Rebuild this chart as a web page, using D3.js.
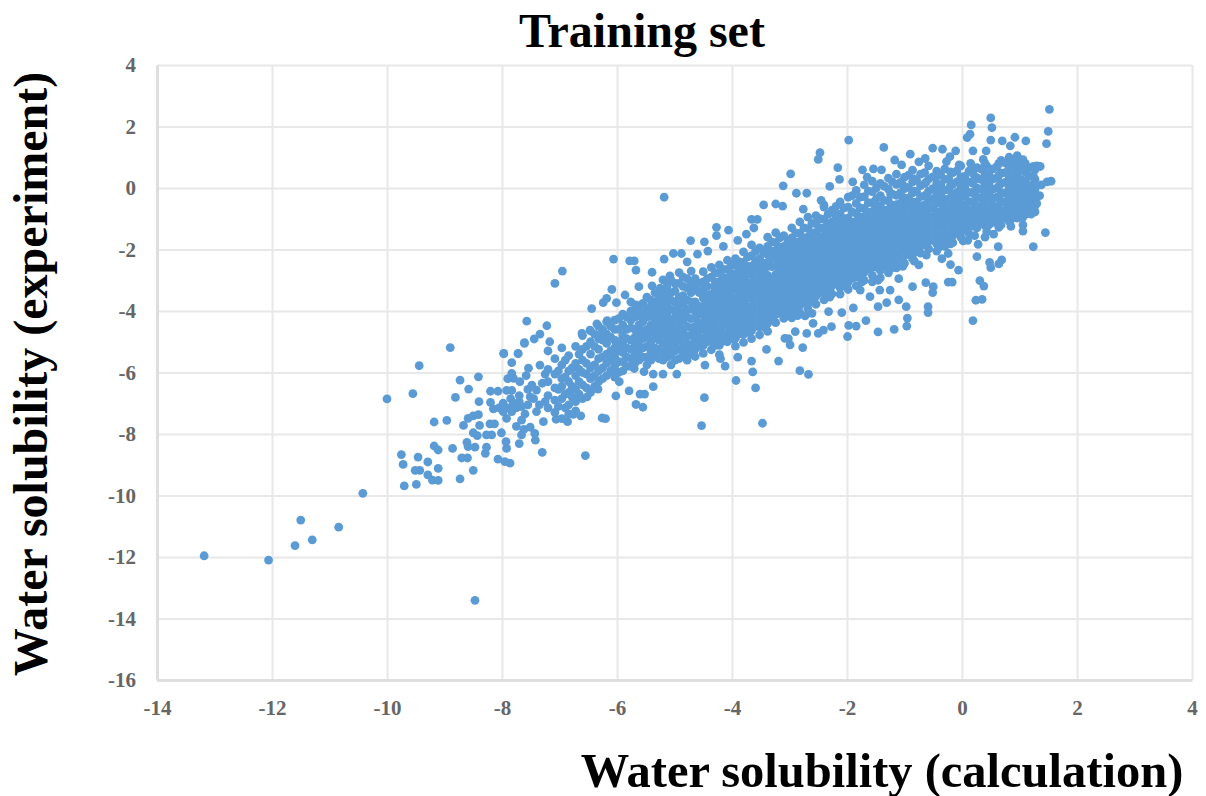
<!DOCTYPE html>
<html>
<head>
<meta charset="utf-8">
<script src="https://cdn.jsdelivr.net/npm/d3@7"></script>
<style>
    body { margin: 0; background: #fff; }
    text { font-family: "Liberation Serif", serif; font-weight: bold; }
</style>
</head>
<body>
<div id="chart"></div>
<script>
var xTicks = [-14, -12, -10, -8, -6, -4, -2, 0, 2, 4];
var yTicks = [4, 2, 0, -2, -4, -6, -8, -10, -12, -14, -16];

// Lone points at the low end
var tailPoints = [[-13.18,-11.96],[-12.06,-12.1],[-11.6,-11.63],[-11.3,-11.44],[-11.5,-10.8],[-10.84,-11.03],[-10.42,-9.93],[-8.47,-13.41],
    [-10,-6.86],[-9.55,-6.69],[-9.44,-5.78],[-8.9,-5.19]];

var leftPoints = [[-9.75,-8.67],[-9.72,-8.99],[-9.7,-9.69],[-9.49,-9.64],[-9.46,-8.75],[-9.51,-9.18],[-9.43,-9.18],[-9.29,-8.91],[-9.11,-9.12],[-9.29,-9.33],
    [-9.21,-9.5],[-9.11,-9.51],[-8.73,-9.46],[-8.5,-9.18],[-9.18,-8.39],[-9.11,-8.52],[-8.86,-8.47],[-9.18,-7.61],[-8.96,-7.56],[-8.81,-6.81],
    [-8.73,-6.25],[-8.58,-6.54],[-8.41,-6.14],[-8.4,-6.95],[-8.2,-6.97],[-8.2,-6.61],[-8.07,-6.61],[-7.92,-6.58],[-7.83,-6.58],[-7.97,-5.39],
    [-7.72,-5.39],[-7.61,-5.05],[-7.83,-5.68],[-8.67,-7.72],[-8.59,-7.49],[-8.5,-7.41],[-8.41,-7.37],[-8.39,-7.72],[-8.21,-7.67],[-8.13,-7.67],
    [-8.5,-7.96],[-8.43,-8.05],[-8.27,-8.03],[-8.18,-8.03],[-8.61,-8.27],[-8.59,-8.41],[-8.47,-8.43],[-8.27,-8.43],[-8.29,-8.63],[-8.7,-8.78],
    [-8.6,-8.78],[-8.07,-8.82],[-7.95,-8.9],[-7.86,-8.95],[-8.01,-7.96],[-7.93,-8.25],[-7.92,-8.47],[-7.7,-8.31],[-7.66,-8.03],[-7.51,-7.78],
    [-7.43,-7.98],[-7.98,-7],[-7.98,-7.27],[-7.92,-7.49],[-7.8,-7],[-7.83,-7.27],[-7.66,-7.11],[-7.66,-7.55],[-7.51,-6.79],[-7.4,-7.27],
    [-7.4,-6.57],[-7.83,-6.03],[-7.8,-6.19],[-7.69,-6.3],[-7.54,-5.86],[-7.48,-6.41],[-7.34,-5.76],[-8.15,-7.18],[-7.3,-8.6],[-7.42,-8.2],
    [-7.75,-7.75],[-7.6,-7.35],[-7.7,-6.75],[-7.9,-6.2],[-7.28,-7.6],[-7.25,-6.95],[-7.58,-6.1],[-7.62,-7.85],[-7.9,-7.15],[-7.75,-7.15],
    [-7.55,-7.05],[-7.45,-6.85],[-7.35,-7.05],[-7.3,-6.35],[-7.25,-6.05],[-7.55,-6.55],[-7.85,-6.85],[-8.05,-7.15],[-7.7,-6.95]];

// Sparse strands between the cluster and the core, one row per x
var midX = [-7.2,-7.08,-6.96,-6.84,-6.72,-6.6,-6.46,-6.32,-6.18,-6.04,-5.9,-5.76,-5.62,-5.48,-5.34,-5.2,-5.06,-4.92,-4.78];
var midY = [
    [-5.3,-5.9,-6.3,-6.75,-7.15],
    [-5.55,-6.05,-6.5,-6.9,-7.3],
    [-5.2,-5.75,-6.2,-6.45,-6.85,-7.5],
    [-5.45,-5.95,-6.3,-6.65,-7.05,-7.35],
    [-5.15,-5.7,-6.1,-6.55,-6.95,-7.25],
    [-4.8,-5.25,-5.6,-6,-6.4,-6.85],
    [-4.65,-5,-5.4,-5.85,-6.2,-6.65],
    [-4.5,-4.9,-5.25,-5.55,-5.95,-6.3],
    [-4.35,-4.75,-5.05,-5.4,-5.7,-6.1],
    [-4.3,-4.6,-4.95,-5.2,-5.5,-5.8,-6.15],
    [-4.1,-4.45,-4.8,-5.1,-5.35,-5.65,-5.95],
    [-3.7,-4,-4.3,-4.55,-4.95,-5.25,-5.55,-5.8],
    [-3.85,-4.15,-4.45,-4.7,-5,-5.3,-5.6],
    [-3.55,-3.95,-4.2,-4.6,-4.85,-5.15,-5.5,-5.75],
    [-3.4,-3.7,-4,-4.3,-4.55,-4.8,-5.2,-5.45],
    [-3.35,-3.65,-3.9,-4.2,-4.5,-4.75,-5.05,-5.35,-5.6],
    [-3,-3.4,-3.65,-3.95,-4.3,-4.55,-4.85,-5.1,-5.4,-5.75],
    [-2.75,-3.1,-3.55,-3.85,-4.1,-4.4,-4.65,-4.95,-5.25,-5.55],
    [-2.4,-2.95,-3.25,-3.65,-3.95,-4.2,-4.5,-4.8,-5.05,-5.3,-5.6]
];

// Extra rows that close most of the gaps in the strands
var midFillX = [-7.02,-6.9,-6.78,-6.66,-6.53,-6.39,-6.25,-6.11,-5.97,-5.83,-5.69,-5.55,-5.41,-5.27,-5.13,-4.99,-4.85,-4.71];
var midFillY = [
    [-5.95,-6.55,-7.1],
    [-5.6,-6.15,-6.7,-7.15],
    [-5.85,-6.45,-6.8],
    [-5.4,-5.9,-6.3,-6.7],
    [-5.15,-5.7,-6.05,-6.5],
    [-4.75,-5.15,-5.75,-6.1,-6.45],
    [-4.6,-4.95,-5.5,-5.85,-6.2],
    [-4.5,-4.85,-5.3,-5.6,-5.95],
    [-4.25,-4.6,-5,-5.3,-5.65,-6],
    [-4.2,-4.6,-4.9,-5.2,-5.5,-5.8],
    [-3.95,-4.2,-4.6,-4.85,-5.15,-5.45,-5.7],
    [-3.75,-4.05,-4.35,-4.65,-4.9,-5.2,-5.5],
    [-3.65,-3.85,-4.15,-4.45,-4.7,-5,-5.3,-5.6],
    [-3.5,-3.85,-4.1,-4.4,-4.65,-4.95,-5.25,-5.55],
    [-3.2,-3.55,-3.8,-4.1,-4.35,-4.65,-4.95,-5.25,-5.5],
    [-3.1,-3.35,-3.7,-4,-4.2,-4.5,-4.75,-5.05,-5.3,-5.6],
    [-2.9,-3.2,-3.5,-3.75,-4.05,-4.3,-4.6,-4.85,-5.15,-5.45],
    [-2.7,-3.1,-3.4,-3.7,-3.95,-4.25,-4.55,-4.8,-5.1,-5.4]
];

// Solid core of the cloud, one row per x
var coreX = [-4.64,-4.5,-4.36,-4.22,-4.08,-3.94,-3.8,-3.66,-3.52,-3.38,-3.24,-3.1,-2.96,-2.82,-2.68,-2.54,-2.4,-2.26,-2.12,-1.98,-1.84,-1.7,-1.56,-1.42,-1.28,-1.14,-1,-0.86,-0.72,-0.58,-0.44,-0.3,-0.16,-0.02,0.12,0.26,0.4,0.54,0.68,0.82,0.96,1.1,1.24];
var coreY = [
    [-2.95,-3.25,-3.7,-3.98,-4.22,-4.5,-4.72,-5,-5.24,-5.48],
    [-2.72,-3.05,-3.32,-3.58,-3.85,-4.1,-4.36,-4.6,-4.88,-5.12,-5.38],
    [-2.58,-2.9,-3.45,-3.7,-3.96,-4.22,-4.48,-4.75,-5,-5.26],
    [-2.5,-2.78,-3.05,-3.3,-3.56,-3.82,-4.08,-4.34,-4.62,-4.86,-5.12,-5.42],
    [-2.35,-2.65,-2.92,-3.18,-3.44,-3.7,-3.96,-4.22,-4.48,-4.74,-5],
    [-2.3,-2.52,-2.8,-3.05,-3.3,-3.58,-3.84,-4.1,-4.36,-4.62,-4.88,-5.14],
    [-2.08,-2.42,-2.68,-2.94,-3.2,-3.46,-3.72,-3.98,-4.24,-4.5,-4.76,-5.02],
    [-1.85,-2.2,-2.54,-2.82,-3.08,-3.34,-3.6,-3.86,-4.12,-4.38,-4.64,-4.9],
    [-1.95,-2.3,-2.56,-2.7,-2.96,-3.22,-3.48,-3.74,-4,-4.26,-4.52,-4.78],
    [-1.6,-1.9,-2.16,-2.42,-2.84,-3.1,-3.36,-3.62,-3.88,-4.14,-4.4,-4.66],
    [-1.45,-1.78,-2.04,-2.3,-2.56,-2.82,-3.08,-3.34,-3.6,-3.86,-4.12,-4.38],
    [-1.55,-1.9,-2.16,-2.42,-2.68,-2.94,-3.2,-3.46,-3.72,-3.98,-4.24],
    [-1.3,-1.62,-1.88,-2.14,-2.4,-2.66,-2.92,-3.18,-3.44,-3.7,-3.96,-4.22],
    [-1.1,-1.48,-1.74,-2,-2.26,-2.52,-2.78,-3.04,-3.3,-3.56,-3.82,-4.05],
    [-0.95,-1.32,-1.6,-1.86,-2.12,-2.38,-2.64,-2.9,-3.16,-3.42,-3.68,-3.92],
    [-0.9,-1.16,-1.44,-1.7,-1.96,-2.22,-2.48,-2.74,-3,-3.26,-3.52,-3.78],
    [-0.55,-1.02,-1.3,-1.56,-1.82,-2.08,-2.34,-2.6,-2.86,-3.12,-3.38,-3.64],
    [-0.72,-1.1,-1.36,-1.62,-1.88,-2.14,-2.4,-2.66,-2.92,-3.18,-3.44],
    [-0.45,-0.85,-1.16,-1.42,-1.68,-1.94,-2.2,-2.46,-2.72,-2.98,-3.24,-3.45],
    [-0.3,-0.62,-0.98,-1.24,-1.5,-1.76,-2.02,-2.28,-2.54,-2.8,-3.06,-3.3],
    [-0.08,-0.5,-0.82,-1.08,-1.34,-1.6,-1.86,-2.12,-2.38,-2.64,-2.9,-3.18],
    [0.1,-0.28,-0.66,-0.92,-1.18,-1.44,-1.7,-1.96,-2.22,-2.48,-2.74,-3],
    [0.22,-0.12,-0.48,-0.76,-1.02,-1.28,-1.54,-1.8,-2.06,-2.32,-2.58,-2.84,-3.05],
    [0.15,-0.25,-0.58,-0.86,-1.12,-1.38,-1.64,-1.9,-2.16,-2.42,-2.68,-2.92],
    [0.32,-0.04,-0.42,-0.7,-0.96,-1.22,-1.48,-1.74,-2,-2.26,-2.52,-2.76],
    [0.45,0.12,-0.24,-0.54,-0.8,-1.06,-1.32,-1.58,-1.84,-2.1,-2.36,-2.6],
    [0.35,-0.02,-0.36,-0.64,-0.9,-1.16,-1.42,-1.68,-1.94,-2.2,-2.45],
    [0.58,0.2,-0.16,-0.46,-0.74,-1,-1.26,-1.52,-1.78,-2.04,-2.3],
    [0.45,0.08,-0.28,-0.58,-0.84,-1.1,-1.36,-1.62,-1.88,-2.12],
    [0.72,0.3,-0.1,-0.4,-0.68,-0.94,-1.2,-1.46,-1.72,-1.98],
    [0.55,0.16,-0.2,-0.5,-0.78,-1.04,-1.3,-1.56,-1.82,-2.05],
    [0.62,0.28,-0.06,-0.36,-0.62,-0.88,-1.14,-1.4,-1.66,-1.9],
    [0.5,0.12,-0.22,-0.5,-0.76,-1.02,-1.28,-1.54,-1.78],
    [0.72,0.36,0,-0.32,-0.6,-0.86,-1.12,-1.38,-1.6],
    [0.55,0.2,-0.14,-0.44,-0.72,-0.98,-1.24,-1.48],
    [0.66,0.34,0,-0.3,-0.58,-0.84,-1.1,-1.3],
    [0.8,0.46,0.12,-0.18,-0.46,-0.72,-0.98,-1.22],
    [0.62,0.3,-0.04,-0.34,-0.6,-0.86,-1.12],
    [0.9,0.48,0.16,-0.16,-0.46,-0.74,-1,-1.2],
    [1,0.66,0.34,0,-0.3,-0.58,-0.84,-1.08],
    [1.05,0.75,0.44,0.1,-0.2,-0.46,-0.72,-0.98],
    [0.8,0.52,0.22,-0.06,-0.34,-0.6,-0.86],
    [0.7,0.4,0.12,-0.16,-0.42,-0.66]
];

// Second pass over the core, the rows sit between the ones above
var fillX = [-4.57,-4.43,-4.29,-4.15,-4.01,-3.87,-3.73,-3.59,-3.45,-3.31,-3.17,-3.03,-2.89,-2.75,-2.61,-2.47,-2.33,-2.19,-2.05,-1.91,-1.77,-1.63,-1.49,-1.35,-1.21,-1.07,-0.93,-0.79,-0.65,-0.51,-0.37,-0.23,-0.09,0.05,0.19,0.33,0.47,0.61,0.75,0.89,1.03,1.17];
var fillY = [
    [-3.1,-3.4,-3.85,-4.1,-4.38,-4.62,-4.88,-5.15],
    [-2.95,-3.2,-3.48,-3.72,-3.98,-4.24,-4.5,-4.75,-5],
    [-2.75,-3.05,-3.32,-3.58,-3.84,-4.1,-4.36,-4.62,-4.88,-5.12],
    [-2.65,-2.92,-3.18,-3.44,-3.7,-3.96,-4.22,-4.48,-4.74,-4.98],
    [-2.5,-2.78,-3.05,-3.32,-3.58,-3.84,-4.1,-4.36,-4.62,-4.88],
    [-2.4,-2.66,-2.92,-3.18,-3.44,-3.7,-3.96,-4.22,-4.48,-4.74],
    [-2.25,-2.55,-2.82,-3.08,-3.34,-3.6,-3.86,-4.12,-4.38,-4.62],
    [-2.05,-2.38,-2.68,-2.95,-3.2,-3.46,-3.72,-3.98,-4.24,-4.5],
    [-2.12,-2.44,-2.82,-3.08,-3.34,-3.6,-3.86,-4.12,-4.4],
    [-1.75,-2.05,-2.3,-2.56,-2.96,-3.22,-3.48,-3.74,-4,-4.26],
    [-1.62,-1.92,-2.18,-2.44,-2.7,-2.96,-3.22,-3.48,-3.74,-4],
    [-1.72,-2.03,-2.3,-2.56,-2.82,-3.08,-3.34,-3.6,-3.86,-4.12],
    [-1.46,-1.75,-2.02,-2.28,-2.54,-2.8,-3.06,-3.32,-3.58,-3.84],
    [-1.3,-1.62,-1.88,-2.14,-2.4,-2.66,-2.92,-3.18,-3.44,-3.7],
    [-1.15,-1.46,-1.72,-1.98,-2.24,-2.5,-2.76,-3.02,-3.28,-3.54],
    [-1,-1.3,-1.58,-1.84,-2.1,-2.36,-2.62,-2.88,-3.14,-3.4],
    [-0.85,-1.16,-1.44,-1.7,-1.96,-2.22,-2.48,-2.74,-3,-3.26],
    [-0.6,-0.95,-1.28,-1.54,-1.8,-2.06,-2.32,-2.58,-2.84,-3.1],
    [-0.65,-1,-1.3,-1.56,-1.82,-2.08,-2.34,-2.6,-2.86,-3.1],
    [-0.25,-0.78,-1.12,-1.38,-1.64,-1.9,-2.16,-2.42,-2.68,-2.94],
    [-0.3,-0.65,-0.95,-1.22,-1.48,-1.74,-2,-2.26,-2.52,-2.78],
    [-0.1,-0.48,-0.8,-1.06,-1.32,-1.58,-1.84,-2.1,-2.36,-2.62],
    [0,-0.35,-0.68,-0.94,-1.2,-1.46,-1.72,-1.98,-2.24,-2.5],
    [0.05,-0.4,-0.72,-0.98,-1.24,-1.5,-1.76,-2.02,-2.28,-2.55],
    [0.2,-0.2,-0.56,-0.84,-1.1,-1.36,-1.62,-1.88,-2.14,-2.4],
    [0.18,-0.15,-0.5,-0.78,-1.04,-1.3,-1.56,-1.82,-2.08,-2.3],
    [0.42,0.02,-0.32,-0.6,-0.88,-1.14,-1.4,-1.66,-1.92,-2.15],
    [0.25,-0.12,-0.45,-0.72,-0.98,-1.24,-1.5,-1.76,-2],
    [0.5,0.14,-0.26,-0.55,-0.82,-1.08,-1.34,-1.6,-1.85],
    [0.36,-0.02,-0.36,-0.64,-0.92,-1.18,-1.44,-1.7],
    [0.42,0.1,-0.22,-0.5,-0.76,-1.02,-1.28,-1.54,-1.75],
    [0.3,-0.06,-0.38,-0.64,-0.9,-1.16,-1.42,-1.65],
    [0.56,0.2,-0.14,-0.42,-0.7,-0.96,-1.22,-1.46],
    [0.38,0.06,-0.26,-0.55,-0.82,-1.08,-1.34],
    [0.48,0.16,-0.16,-0.44,-0.72,-0.98,-1.24],
    [0.62,0.28,-0.04,-0.32,-0.6,-0.86,-1.1],
    [0.44,0.14,-0.18,-0.48,-0.74,-1,-1.2],
    [0.7,0.32,0,-0.3,-0.6,-0.86,-1.1],
    [0.82,0.5,0.18,-0.16,-0.44,-0.72,-0.96],
    [0.86,0.56,0.24,-0.08,-0.38,-0.64,-0.9],
    [0.9,0.6,0.28,-0.04,-0.32,-0.58,-0.84],
    [0.66,0.38,0.08,-0.2,-0.46,-0.72]
];

// Third pass, mostly the right end where the cloud is completely solid
var thirdX = [-4.3,-3.98,-3.7,-3.42,-3.12,-2.86,-2.58,-2.3,-2.02,-1.74,-1.46,-1.24,-1.03,-0.83,-0.62,-0.41,-0.2,0.02,0.22,0.43,0.64,0.85,1.06,1.27];
var thirdY = [
    [-3.2,-3.6,-4,-4.4,-4.8],
    [-2.88,-3.25,-3.65,-4.05,-4.45,-4.9],
    [-2.7,-3.12,-3.52,-3.9,-4.3,-4.7],
    [-2.6,-3,-3.42,-3.8,-4.2,-4.55],
    [-2.1,-2.5,-2.9,-3.3,-3.7,-4.1],
    [-1.9,-2.3,-2.7,-3.1,-3.5,-3.9,-4.15],
    [-1.78,-2.18,-2.58,-2.95,-3.35,-3.72],
    [-1.6,-2,-2.4,-2.8,-3.2,-3.55],
    [-1.15,-1.55,-1.95,-2.35,-2.75,-3.2],
    [-1,-1.4,-1.8,-2.2,-2.6,-3.05],
    [-0.6,-1,-1.4,-1.8,-2.2,-2.6,-3],
    [-0.2,-0.62,-1,-1.42,-1.8,-2.2,-2.62],
    [0.1,-0.3,-0.72,-1.1,-1.5,-1.9,-2.28,-2.55],
    [0.3,-0.1,-0.5,-0.9,-1.3,-1.7,-2.1,-2.38],
    [0.2,-0.22,-0.62,-1,-1.4,-1.78,-2.18],
    [0.42,0,-0.42,-0.82,-1.2,-1.6,-1.95],
    [0.52,0.08,-0.32,-0.7,-1.1,-1.5,-1.82],
    [0.18,-0.2,-0.6,-0.98,-1.38,-1.72],
    [0.62,0.28,-0.1,-0.5,-0.9,-1.2,-1.55],
    [0.72,0.36,-0.02,-0.42,-0.8,-1.18,-1.42],
    [0.8,0.42,0.06,-0.32,-0.7,-1.05,-1.28],
    [0.55,0.2,-0.22,-0.62,-1.02,-1.25],
    [0.92,0.58,0.18,-0.24,-0.6,-0.95,-1.2],
    [0.6,0.28,-0.05,-0.32,-0.58,-0.78]
];

// Loose points along the top edge and outliers above the band
var upperPoints = [[-7.08,-3.1],[-6.95,-2.7],[-7.57,-4.33],[-7.22,-4.48],[-7.34,-4.75],[-7.44,-4.91],[-7.61,-5.03],[-7.72,-5.38],[-7.97,-5.38],[-7.17,-5],
    [-6.44,-3.92],[-6.06,-2.31],[-5.78,-2.37],[-5.7,-2.37],[-5.67,-2.67],[-5.39,-2.74],[-5.18,-0.3],[-5.18,-2.31],[-5.02,-2.13],[-4.88,-2.13],
    [-4.72,-1.71],[-4.48,-1.75],[-4.27,-1.28],[-4.27,-1.55],[-4.06,-1.37],[-3.66,-1.02],[-3.56,-1.02],[-3.45,-0.55],[-3.24,-0.52],[-3.11,0.07],
    [-2.98,0.46],[-2.88,-0.17],[-2.7,-0.17],[-2.76,-0.69],[-3.12,-0.59],[-6.09,-3.3],[-6.18,-3.59],[-6.24,-3.73],[-6.01,-3.73],[-5.86,-3.48],
    [-5.67,-3.8],[-5.62,-3.21],[-5.39,-3.18],[-5.25,-3.26],[-5.08,-2.86],[-5.2,-2.99],[-6.35,-4.42],[-6.17,-4.31],[-6.61,-4.73],[-6.47,-4.62],
    [-6.3,-4.78],[-4.6,-2.15],[-4.42,-2.05],[-4.15,-1.9],[-3.9,-1.7],[-3.75,-1.5],[-3.62,-1.3],[-2.2,-0.85],[-2.45,-0.4],[-2.4,-0.62],
    [-1.97,1.56],[-2.47,1.15],[-2.5,0.93],[-2.16,0.66],[-2.13,0.28],[-1.73,0.59],[-1.54,0.62],[-1.4,0.59],[-1.36,1.32],[-1.17,0.91],
    [-0.9,1.1],[-0.64,0.96],[-0.51,1.3],[-0.34,1.26],[-0.27,0.86],[-0.21,1.02],[-0.11,1.21],[-0.05,0.75],[0.09,1.64],[0.14,1.75],
    [0.16,2.05],[0.15,0.8],[0.19,1.21],[0.37,0.93],[0.42,1.21],[0.5,1.56],[0.5,2.28],[0.52,1.96],[0.7,1.53],[0.84,1.37],
    [0.92,1.65],[1.11,1.53],[1.3,0.72],[1.36,0.7],[1.47,1.44],[1.5,1.84],[1.52,2.56],[1.55,0.22],[1.48,0.2],[-1.05,0.75],
    [-0.75,0.85],[-1.9,0.2],[-2.3,0.05],[-1.65,0.35],[1.38,0.1],[1.35,-0.25],[1.3,-0.5],[1.2,-0.85]];

// Loose points under the band
var lowerPoints = [[-6.02,-6.76],[-5.79,-6.6],[-5.6,-6.7],[-5.52,-6.7],[-5.37,-6.46],[-5.67,-7.04],[-5.55,-7.13],[-6.26,-7.48],[-6.63,-7.41],[-6.76,-7.36],
    [-6.86,-7.6],[-7.06,-7.52],[-4.48,-6.82],[-4.53,-7.73],[-3.47,-7.65],[-3.93,-6.26],[-3.59,-6.5],[-3.64,-5.98],[-3.66,-5.63],[-3.19,-5.63],
    [-2.82,-5.94],[-2.67,-6.06],[-2.77,-5.19],[-4.12,-5.79],[-4.47,-5.76],[-4.96,-6.05],[-5.2,-6.05],[-5.37,-6.05],[-5.53,-5.97],[-5.7,-5.87],
    [-5.96,-6.3],[-6.33,-6.54],[-6.52,-6.79],[-6.55,-8.7],[-6.2,-7.5],[-3.9,-5.5],[-4.2,-5.55],[-3.4,-5.25],[-3.02,-4.9],
    [-2.99,-5.1],[-3.08,-4.89],[-2.9,-4.67],[-2.7,-4.73],[-2.59,-4.4],[-2.73,-4.16],[-2.61,-4.08],[-2.32,-4.02],[-2.5,-4.73],[-2.41,-4.62],
    [-2.27,-4.51],[-2.09,-4.05],[-1.99,-4.83],[-1.97,-4.47],[-1.89,-3.9],[-1.84,-4.49],[-1.77,-3.32],[-1.67,-4.31],[-1.6,-3.53],[-1.46,-4.68],
    [-1.46,-3.86],[-1.43,-3.32],[-1.31,-3.73],[-1.25,-3.32],[-1.18,-4.6],[-1.1,-3.64],[-0.97,-3.86],[-0.96,-4.49],[-0.95,-4.23],[-0.86,-3.21],
    [-0.63,-3.08],[-0.59,-3.86],[-0.59,-4.05],[-0.5,-3.21],[-0.51,-3.4],[-0.24,-3.06],[-0.24,-2.13],[-0.2,-2.49],[-0.17,-3.06],[-0.06,-2.67],
    [0.19,-4.31],[0.24,-3.65],[0.35,-3.62],[0.31,-3.01],[0.38,-3.19],[0.26,-2.23],[0.28,-1.83],[0.48,-2.42],[0.5,-2.59],[0.64,-2.47],
    [0.69,-2.34],[0.63,-1.91],[1.06,-1.4],[1.24,-1.91],[1.45,-1.45],[0.4,-1.6],[0.55,-1.5],[0.1,-1.7],[-0.75,-2.5],[-0.35,-2.3],[-1.1,-2.95]];

var width = 1206, height = 796;
var svg = d3.select("#chart").append("svg")
    .attr("width", width)
    .attr("height", height)
    .style("display", "block");

var x = d3.scaleLinear().domain([-14, 4]).range([157, 1192]);
var y = d3.scaleLinear().domain([-16, 4]).range([680, 65]);

// Gridlines
svg.append("g")
    .attr("transform", "translate(0,680)")
    .call(d3.axisBottom(x).tickValues(xTicks).tickSize(-615).tickFormat(""))
    .call(g => g.select(".domain").remove())
    .selectAll("line").attr("stroke", "#e8e8e8").attr("stroke-width", 2);
svg.append("g")
    .attr("transform", "translate(157,0)")
    .call(d3.axisLeft(y).tickValues(yTicks).tickSize(-1035).tickFormat(""))
    .call(g => g.select(".domain").remove())
    .selectAll("line").attr("stroke", "#e8e8e8").attr("stroke-width", 2);

// Axis labels, plain hyphen for the minus like the original
var xAxis = svg.append("g")
    .attr("transform", "translate(0,680)")
    .call(d3.axisBottom(x).tickValues(xTicks).tickSize(0).tickPadding(20).tickFormat(d => String(d)));
xAxis.select(".domain").attr("stroke", "#dedede").attr("stroke-width", 3);
xAxis.selectAll("text").attr("font-size", 21).attr("fill", "#666666").style("font-family", "'Liberation Serif', serif");

var yAxis = svg.append("g")
    .attr("transform", "translate(157,0)")
    .call(d3.axisLeft(y).tickValues(yTicks).tickSize(0).tickPadding(21).tickFormat(d => String(d)));
yAxis.select(".domain").attr("stroke", "#dedede").attr("stroke-width", 3);
yAxis.selectAll("text").attr("font-size", 21).attr("fill", "#666666").style("font-family", "'Liberation Serif', serif");

// Flatten the rows and draw everything
var rowPoints = function (xs, ys) {
    var out = [];
    xs.forEach((v, i) => ys[i].forEach(w => out.push([v, w])));
    return out;
};
var points = [].concat(tailPoints, leftPoints, rowPoints(midX, midY), rowPoints(midFillX, midFillY),
    rowPoints(coreX, coreY), rowPoints(fillX, fillY), rowPoints(thirdX, thirdY), upperPoints, lowerPoints);

svg.append("g").selectAll("circle")
    .data(points)
    .enter()
    .append("circle")
    .attr("cx", d => x(d[0]))
    .attr("cy", d => y(d[1]))
    .attr("r", 4.4)
    .attr("fill", "#5b9bd5");

// Titles
svg.append("text")
    .attr("x", 642)
    .attr("y", 47)
    .attr("text-anchor", "middle")
    .attr("font-size", 48)
    .attr("fill", "#000")
    .text("Training set");
svg.append("text")
    .attr("x", 882)
    .attr("y", 787)
    .attr("text-anchor", "middle")
    .attr("font-size", 48.5)
    .attr("fill", "#000")
    .text("Water solubility (calculation)");
svg.append("text")
    .attr("transform", "translate(47,374) rotate(-90)")
    .attr("text-anchor", "middle")
    .attr("font-size", 48)
    .attr("fill", "#000")
    .text("Water solubility (experiment)");
</script>
</body>
</html>
